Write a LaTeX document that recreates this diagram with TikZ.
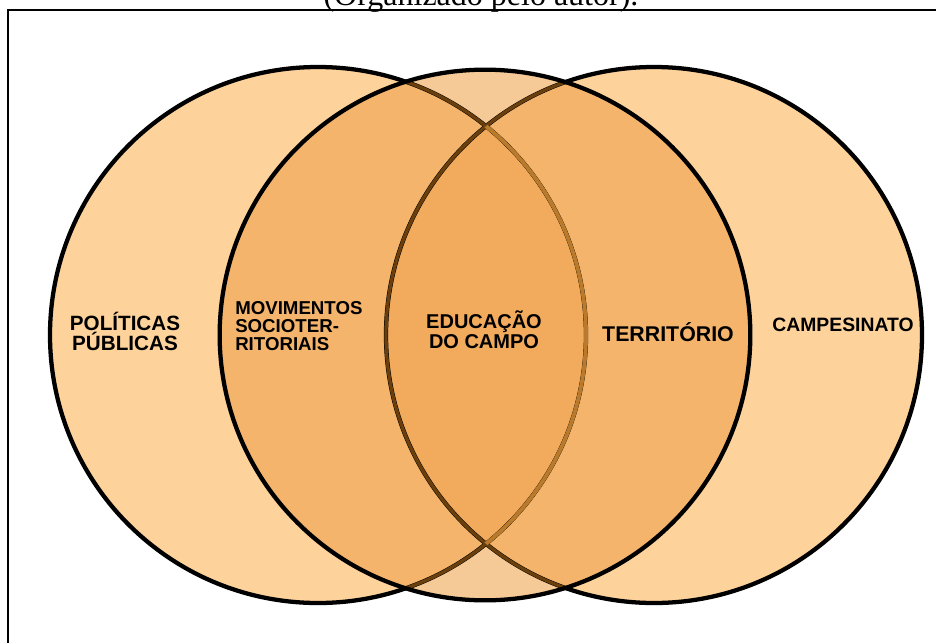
\documentclass[tikz,border=0pt]{standalone}
\usepackage{fontspec}
\setmainfont{Liberation Serif}
\newfontfamily\vennfont{Liberation Sans}
\usetikzlibrary{calc}

\definecolor{pale}{HTML}{FDD29B}
\definecolor{palemid}{HTML}{F6CA96}
\definecolor{twofold}{HTML}{F4B46C}
\definecolor{threefold}{HTML}{F2AA5C}
\definecolor{rim}{HTML}{6B3F0C}
\definecolor{rimlight}{HTML}{B97A2C}

\newcommand\leftrad{201pt}
\newcommand\midrad{199pt}
\newcommand\rightrad{201pt}

\tikzset{
  venn label/.style={font=\vennfont\bfseries\fontsize{14.5}{15}\selectfont, text=black, inner sep=0pt, align=center},
  outline/.style={line width=3.2pt},
  inner rim/.style={line width=2.5pt},
}

\begin{document}
\begin{tikzpicture}[x=0.75pt,y=-0.75pt]
\useasboundingbox (0,0) rectangle (936,643);

\coordinate (L) at (318,335);
\coordinate (M) at (485,335);
\coordinate (R) at (654,335);

% fills
\fill[pale] (L) circle[radius=\leftrad];
\fill[pale] (R) circle[radius=\rightrad];
\fill[palemid] (M) circle[radius=\midrad];
\begin{scope}
  \clip (M) circle[radius=\midrad];
  \fill[twofold] (L) circle[radius=\leftrad];
  \fill[twofold] (R) circle[radius=\rightrad];
  \clip (L) circle[radius=\leftrad];
  \fill[threefold] (R) circle[radius=\rightrad];
\end{scope}

% outlines
\draw[outline] (L) circle[radius=\leftrad];
\draw[outline] (R) circle[radius=\rightrad];
\begin{scope}
  \clip (M) circle[radius=\midrad];
  \draw[inner rim,rim] (L) circle[radius=\leftrad];
  \draw[inner rim,rim] (R) circle[radius=\rightrad];
  \clip (R) circle[radius=\rightrad];
  \draw[inner rim,rimlight,line width=2.9pt] (L) circle[radius=\leftrad];
\end{scope}
\draw[outline] (M) circle[radius=\midrad];

% frame and caption
\draw[line width=1.3pt] (8,643) |- (936,10);
\node[font=\fontsize{24}{28}\selectfont, anchor=base, inner sep=0pt] (caption) at (481,5) {(Organizado pelo autor).};

% labels
\node[venn label, font=\vennfont\bfseries\fontsize{15.5}{15}\selectfont] (politicas) at (125,331) {POLÍTICAS\\PÚBLICAS};
\node[venn label, align=left, anchor=west, font=\vennfont\bfseries\fontsize{14}{13.5}\selectfont] (movimentos) at (235,326) {MOVIMENTOS\\SOCIOTER-\\RITORIAIS};
\node[venn label, font=\vennfont\bfseries\fontsize{15}{15}\selectfont] (educacao) at (484,330) {EDUCAÇÃO\\DO CAMPO};
\node[venn label, font=\vennfont\bfseries\fontsize{16}{16}\selectfont] (territorio) at (668,332) {TERRITÓRIO};
\node[venn label] (campesinato) at (843,325) {CAMPESINATO};

\end{tikzpicture}
\end{document}
